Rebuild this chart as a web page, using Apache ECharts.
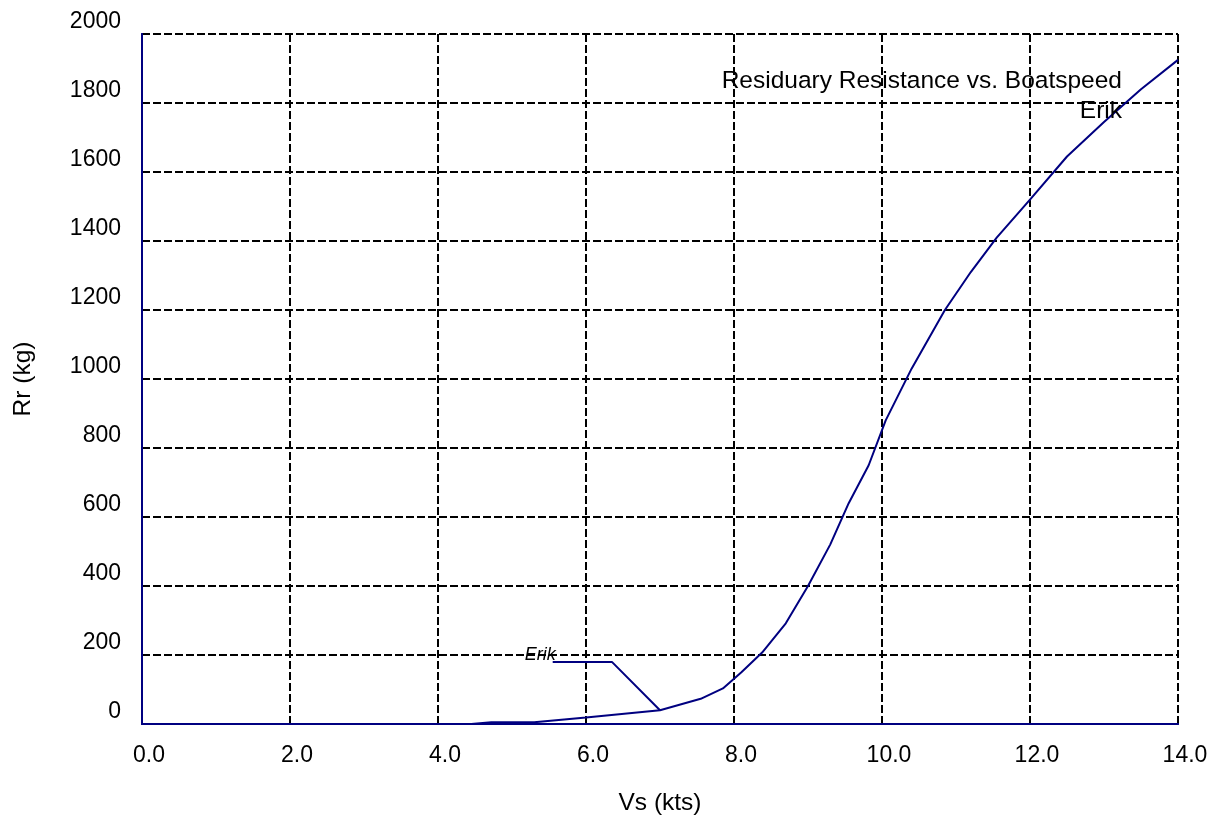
<!DOCTYPE html>
<html>
<head>
<meta charset="utf-8">
<script src="https://cdn.jsdelivr.net/npm/echarts@6/dist/echarts.min.js"></script>
<style>
html,body{margin:0;padding:0;background:#fff;}
#chart{width:1228px;height:820px;}
</style>
</head>
<body>
<div id="chart"></div>
<script>
// Data: boatspeed (kts) and residuary resistance (kg)
var speed = [0, 4.45, 4.72, 5.3, 6.0, 7.0, 7.55, 7.85, 8.1, 8.38, 8.7, 9.0, 9.3, 9.55, 9.82, 10.05, 10.4, 10.85, 11.2, 11.55, 12.0, 12.5, 13.0, 13.5, 14.0];
var resistance = [0, 0, 5, 5, 19, 40, 73, 103, 150, 207, 292, 400, 520, 640, 750, 880, 1030, 1200, 1310, 1410, 1520, 1645, 1745, 1840, 1925];
// Annotation leader line (label "Erik" pointing at curve)
var leaderSpeed = [5.55, 6.35, 7.0];
var leaderRes = [180, 180, 40];
var xTicks = [0, 2, 4, 6, 8, 10, 12, 14];
var yTicks = [0, 200, 400, 600, 800, 1000, 1200, 1400, 1600, 1800, 2000];
var titleText = 'Residuary Resistance vs. Boatspeed';
var seriesName = 'Erik';

var NAVY = '#000080';
var FONT = 'Arial, "Liberation Sans", sans-serif';
var FS = 23;
var TFS = 24.5;

var curve = speed.map(function (s, i) { return [s, resistance[i]]; });
var leader = leaderSpeed.map(function (s, i) { return [s, leaderRes[i]]; });

var chart = echarts.init(document.getElementById('chart'));
chart.setOption({
  backgroundColor: '#fff',
  animation: false,
  textStyle: { fontFamily: FONT },
  title: [
    { text: titleText, right: 106, top: 69, padding: 0,
      textStyle: { fontSize: TFS, fontWeight: 'normal', color: '#000', fontFamily: FONT } },
    { text: seriesName, right: 106, top: 99, padding: 0,
      textStyle: { fontSize: TFS, fontWeight: 'normal', color: '#000', fontFamily: FONT } }
  ],
  grid: { left: 142, right: 50, top: 34, bottom: 96, containLabel: false, outerBoundsMode: 'none' },
  xAxis: [{
    type: 'value', min: xTicks[0], max: xTicks[xTicks.length - 1], interval: 2,
    position: 'bottom',
    name: 'Vs (kts)', nameLocation: 'middle', nameGap: 67,
    nameTextStyle: { fontSize: TFS, color: '#000', fontFamily: FONT },
    axisLine: { show: true, lineStyle: { color: NAVY, width: 2 } },
    axisTick: { show: false },
    axisLabel: { show: true, fontSize: FS, color: '#000', margin: 20, padding: [0, 0, 0, 14],
      showMinLabel: true, showMaxLabel: true, hideOverlap: false,
      formatter: function (v) { return v.toFixed(1); } },
    splitLine: { show: true, lineStyle: { color: '#000', width: 2, type: [8, 3] } }
  }, {
    type: 'value', min: xTicks[0], max: xTicks[xTicks.length - 1], interval: 2,
    position: 'top',
    axisLine: { show: true, lineStyle: { color: NAVY, width: 2 } },
    axisTick: { show: false },
    axisLabel: { show: false },
    splitLine: { show: false }
  }],
  yAxis: [{
    type: 'value', min: yTicks[0], max: yTicks[yTicks.length - 1], interval: 200,
    position: 'left',
    name: 'Rr (kg)', nameLocation: 'middle', nameGap: 106,
    nameTextStyle: { fontSize: TFS, color: '#000', fontFamily: FONT },
    axisLine: { show: true, lineStyle: { color: NAVY, width: 2 } },
    axisTick: { show: false },
    axisLabel: { show: true, fontSize: FS, color: '#000', margin: 21, verticalAlign: 'bottom',
      lineHeight: 25, showMinLabel: true, showMaxLabel: true, hideOverlap: false,
      formatter: function (v) { return String(v); } },
    splitLine: { show: true, lineStyle: { color: '#000', width: 2, type: [8, 3] } }
  }, {
    type: 'value', min: yTicks[0], max: yTicks[yTicks.length - 1], interval: 200,
    position: 'right',
    axisLine: { show: true, lineStyle: { color: NAVY, width: 2 } },
    axisTick: { show: false },
    axisLabel: { show: false },
    splitLine: { show: false }
  }],
  series: [{
    name: seriesName, type: 'line', xAxisIndex: 0, yAxisIndex: 0,
    data: curve, showSymbol: false, symbol: 'none', smooth: false,
    lineStyle: { color: NAVY, width: 2 }, z: 3
  }, {
    name: 'leader', type: 'line', xAxisIndex: 0, yAxisIndex: 0,
    data: leader.map(function (p, i) {
      return i === 0 ? { value: p, label: { show: true, position: 'left', distance: 0, offset: [3, -7],
        formatter: seriesName, fontSize: 18, fontStyle: 'italic', color: '#000', fontFamily: FONT } } : p;
    }),
    showSymbol: true, symbol: 'circle', symbolSize: 0.01,
    itemStyle: { color: NAVY }, lineStyle: { color: NAVY, width: 2 }, z: 3
  }]
});
</script>
</body>
</html>
